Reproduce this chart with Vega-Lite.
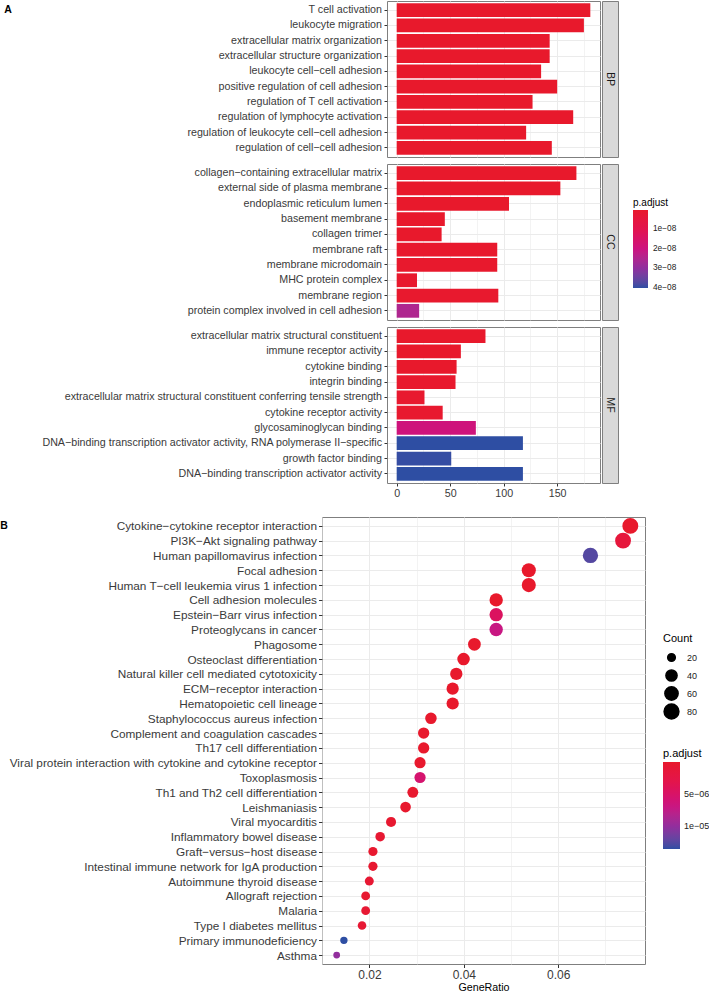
{
  "$schema": "https://vega.github.io/schema/vega-lite/v6.json",
  "padding": {"left": 0, "top": 0, "right": 0, "bottom": 0},
  "background": "white",
  "config": {
    "font": "Liberation Sans",
    "view": {"stroke": "#7f7f7f", "strokeWidth": 1},
    "axis": {"labelFont": "Liberation Sans", "titleFont": "Liberation Sans", "labelColor": "#3a3a3a", "tickColor": "#333333", "gridColor": "#EBEBEB", "domain": false},
    "legend": {"labelFont": "Liberation Sans", "titleFont": "Liberation Sans", "titleFontWeight": "normal", "titleColor": "#000000", "labelColor": "#222222"}
  },
  "datasets": {
    "go": [
      {"ont": "BP", "term": "T cell activation", "count": 181, "padj": 1.2e-20},
      {"ont": "BP", "term": "leukocyte migration", "count": 175, "padj": 3.5e-19},
      {"ont": "BP", "term": "extracellular matrix organization", "count": 143, "padj": 2.1e-18},
      {"ont": "BP", "term": "extracellular structure organization", "count": 143, "padj": 2.3e-18},
      {"ont": "BP", "term": "leukocyte cell−cell adhesion", "count": 135, "padj": 5.0e-17},
      {"ont": "BP", "term": "positive regulation of cell adhesion", "count": 150, "padj": 6.1e-17},
      {"ont": "BP", "term": "regulation of T cell activation", "count": 127, "padj": 1.4e-16},
      {"ont": "BP", "term": "regulation of lymphocyte activation", "count": 165, "padj": 1.6e-16},
      {"ont": "BP", "term": "regulation of leukocyte cell−cell adhesion", "count": 121, "padj": 3.2e-16},
      {"ont": "BP", "term": "regulation of cell−cell adhesion", "count": 145, "padj": 4.0e-16},
      {"ont": "CC", "term": "collagen−containing extracellular matrix", "count": 168, "padj": 1e-15},
      {"ont": "CC", "term": "external side of plasma membrane", "count": 153, "padj": 2e-14},
      {"ont": "CC", "term": "endoplasmic reticulum lumen", "count": 105, "padj": 3e-11},
      {"ont": "CC", "term": "basement membrane", "count": 45, "padj": 5e-11},
      {"ont": "CC", "term": "collagen trimer", "count": 42, "padj": 8e-11},
      {"ont": "CC", "term": "membrane raft", "count": 94, "padj": 3e-10},
      {"ont": "CC", "term": "membrane microdomain", "count": 94, "padj": 3.2e-10},
      {"ont": "CC", "term": "MHC protein complex", "count": 19, "padj": 4e-10},
      {"ont": "CC", "term": "membrane region", "count": 95, "padj": 6e-10},
      {"ont": "CC", "term": "protein complex involved in cell adhesion", "count": 21, "padj": 2.5e-8},
      {"ont": "MF", "term": "extracellular matrix structural constituent", "count": 83, "padj": 5e-12},
      {"ont": "MF", "term": "immune receptor activity", "count": 60, "padj": 3e-11},
      {"ont": "MF", "term": "cytokine binding", "count": 56, "padj": 9e-11},
      {"ont": "MF", "term": "integrin binding", "count": 55, "padj": 4e-10},
      {"ont": "MF", "term": "extracellular matrix structural constituent conferring tensile strength", "count": 26, "padj": 7e-10},
      {"ont": "MF", "term": "cytokine receptor activity", "count": 43, "padj": 9e-10},
      {"ont": "MF", "term": "glycosaminoglycan binding", "count": 74, "padj": 1.9e-8},
      {"ont": "MF", "term": "DNA−binding transcription activator activity, RNA polymerase II−specific", "count": 118, "padj": 4.01e-8},
      {"ont": "MF", "term": "growth factor binding", "count": 51, "padj": 3.97e-8},
      {"ont": "MF", "term": "DNA−binding transcription activator activity", "count": 118, "padj": 4.01e-8}
    ],
    "kegg": [
      {"pathway": "Cytokine−cytokine receptor interaction", "GeneRatio": 0.07527, "Count": 98, "padj": 2e-12},
      {"pathway": "PI3K−Akt signaling pathway", "GeneRatio": 0.07373, "Count": 96, "padj": 1.5e-6},
      {"pathway": "Human papillomavirus infection", "GeneRatio": 0.06682, "Count": 87, "padj": 1.25e-5},
      {"pathway": "Focal adhesion", "GeneRatio": 0.05376, "Count": 70, "padj": 3e-9},
      {"pathway": "Human T−cell leukemia virus 1 infection", "GeneRatio": 0.05376, "Count": 70, "padj": 4e-9},
      {"pathway": "Cell adhesion molecules", "GeneRatio": 0.04685, "Count": 61, "padj": 5e-10},
      {"pathway": "Epstein−Barr virus infection", "GeneRatio": 0.04685, "Count": 61, "padj": 4.5e-6},
      {"pathway": "Proteoglycans in cancer", "GeneRatio": 0.04685, "Count": 61, "padj": 7e-6},
      {"pathway": "Phagosome", "GeneRatio": 0.04224, "Count": 55, "padj": 2e-9},
      {"pathway": "Osteoclast differentiation", "GeneRatio": 0.03994, "Count": 52, "padj": 3e-9},
      {"pathway": "Natural killer cell mediated cytotoxicity", "GeneRatio": 0.0384, "Count": 50, "padj": 4e-9},
      {"pathway": "ECM−receptor interaction", "GeneRatio": 0.03763, "Count": 49, "padj": 5e-9},
      {"pathway": "Hematopoietic cell lineage", "GeneRatio": 0.03763, "Count": 49, "padj": 6e-9},
      {"pathway": "Staphylococcus aureus infection", "GeneRatio": 0.03303, "Count": 43, "padj": 5e-8},
      {"pathway": "Complement and coagulation cascades", "GeneRatio": 0.03149, "Count": 41, "padj": 1e-7},
      {"pathway": "Th17 cell differentiation", "GeneRatio": 0.03149, "Count": 41, "padj": 1.2e-7},
      {"pathway": "Viral protein interaction with cytokine and cytokine receptor", "GeneRatio": 0.03072, "Count": 40, "padj": 2e-7},
      {"pathway": "Toxoplasmosis", "GeneRatio": 0.03072, "Count": 40, "padj": 5.5e-6},
      {"pathway": "Th1 and Th2 cell differentiation", "GeneRatio": 0.02919, "Count": 38, "padj": 3e-7},
      {"pathway": "Leishmaniasis", "GeneRatio": 0.02765, "Count": 36, "padj": 2e-7},
      {"pathway": "Viral myocarditis", "GeneRatio": 0.02458, "Count": 32, "padj": 4e-7},
      {"pathway": "Inflammatory bowel disease", "GeneRatio": 0.02227, "Count": 29, "padj": 5e-7},
      {"pathway": "Graft−versus−host disease", "GeneRatio": 0.02074, "Count": 27, "padj": 3e-7},
      {"pathway": "Intestinal immune network for IgA production", "GeneRatio": 0.02074, "Count": 27, "padj": 4e-7},
      {"pathway": "Autoimmune thyroid disease", "GeneRatio": 0.01997, "Count": 26, "padj": 6e-7},
      {"pathway": "Allograft rejection", "GeneRatio": 0.0192, "Count": 25, "padj": 4e-7},
      {"pathway": "Malaria", "GeneRatio": 0.0192, "Count": 25, "padj": 6e-7},
      {"pathway": "Type I diabetes mellitus", "GeneRatio": 0.01843, "Count": 24, "padj": 7e-7},
      {"pathway": "Primary immunodeficiency", "GeneRatio": 0.01459, "Count": 19, "padj": 1.35e-5},
      {"pathway": "Asthma", "GeneRatio": 0.01306, "Count": 17, "padj": 1.0e-5}
    ]
  },
  "resolve": {"scale": {"color": "independent", "size": "independent"}, "legend": {"color": "independent", "size": "independent"}},
  "spacing": 5,
  "vconcat": [
    {
      "spacing": 0,
      "resolve": {"legend": {"color": "independent"}},
      "hconcat": [
        {
          "width": 16, "height": 18,
          "view": {"stroke": null},
          "data": {"values": [{"tag": "A"}]},
          "mark": {"type": "text", "fontSize": 10.5, "fontWeight": "bold", "color": "#000000"},
          "encoding": {"text": {"field": "tag", "type": "nominal"}}
        },
        {
          "width": 213, "height": 156,
          "data": {"name": "go"},
          "transform": [{"filter": "datum.ont === 'BP'"}],
          "mark": {"type": "bar"},
          "encoding": {
            "y": {"field": "term", "type": "nominal", "sort": null, "scale": {"type": "band", "paddingInner": 0.1, "paddingOuter": 0.15},
                  "axis": {"title": null, "labelFontSize": 10.7, "labelLimit": 400, "minExtent": 370, "maxExtent": 370, "tickSize": 3, "labelPadding": 2.5, "grid": true, "bandPosition": 0.5}},
            "x": {"field": "count", "type": "quantitative", "scale": {"domain": [-9.05, 190.05], "nice": false, "zero": false},
                  "axis": {"title": null, "values": [0, 25, 50, 75, 100, 125, 150, 175], "labels": false, "ticks": false, "tickSize": 0, "labelPadding": 0, "minExtent": 0, "maxExtent": 0, "grid": true, "gridWidth": {"condition": {"test": "datum.value % 50 === 0", "value": 1}, "value": 0.6}}},
            "x2": {"datum": 0},
            "color": {"field": "padj", "type": "quantitative",
                      "scale": {"domain": [4.01e-8, 3e-8, 2e-8, 1e-8, 0], "range": ["#2E4EA3", "#8F2F9E", "#CC1380", "#E2144F", "#E8192C"], "interpolate": "lab"},
                      "legend": null}
          }
        },
        {
          "width": 16, "height": 156,
          "data": {"values": [{"ont": "BP"}]},
          "view": {"fill": "#D9D9D9", "stroke": "#7f7f7f"},
          "mark": {"type": "text", "angle": 90, "fontSize": 10.7, "color": "#1a1a1a"},
          "encoding": {"text": {"field": "ont", "type": "nominal"}}
        }
      ]
    },
    {
      "spacing": 0,
      "resolve": {"legend": {"color": "independent"}},
      "hconcat": [
        {
          "width": 16, "height": 18,
          "view": {"stroke": null},
          "data": {"values": [{"tag": ""}]},
          "mark": {"type": "text", "fontSize": 10.5},
          "encoding": {"text": {"field": "tag", "type": "nominal"}}
        },
        {
          "width": 213, "height": 156,
          "data": {"name": "go"},
          "transform": [{"filter": "datum.ont === 'CC'"}],
          "mark": {"type": "bar"},
          "encoding": {
            "y": {"field": "term", "type": "nominal", "sort": null, "scale": {"type": "band", "paddingInner": 0.1, "paddingOuter": 0.15},
                  "axis": {"title": null, "labelFontSize": 10.7, "labelLimit": 400, "minExtent": 370, "maxExtent": 370, "tickSize": 3, "labelPadding": 2.5, "grid": true, "bandPosition": 0.5}},
            "x": {"field": "count", "type": "quantitative", "scale": {"domain": [-9.05, 190.05], "nice": false, "zero": false},
                  "axis": {"title": null, "values": [0, 25, 50, 75, 100, 125, 150, 175], "labels": false, "ticks": false, "tickSize": 0, "labelPadding": 0, "minExtent": 0, "maxExtent": 0, "grid": true, "gridWidth": {"condition": {"test": "datum.value % 50 === 0", "value": 1}, "value": 0.6}}},
            "x2": {"datum": 0},
            "color": {"field": "padj", "type": "quantitative",
                      "scale": {"domain": [4.01e-8, 3e-8, 2e-8, 1e-8, 0], "range": ["#2E4EA3", "#8F2F9E", "#CC1380", "#E2144F", "#E8192C"], "interpolate": "lab"},
                      "legend": null}
          }
        },
        {
          "width": 16, "height": 156,
          "view": {"fill": "#D9D9D9", "stroke": "#7f7f7f"},
          "layer": [
            {
              "data": {"values": [{"ont": "CC"}]},
              "mark": {"type": "text", "angle": 90, "fontSize": 10.7, "color": "#1a1a1a"},
              "encoding": {"text": {"field": "ont", "type": "nominal"}}
            },
            {
              "data": {"name": "go"},
              "mark": {"type": "point", "filled": true, "opacity": 0},
              "encoding": {
                "color": {"field": "padj", "type": "quantitative",
                          "scale": {"domain": [4.01e-8, 3e-8, 2e-8, 1e-8, 0], "range": ["#2E4EA3", "#8F2F9E", "#CC1380", "#E2144F", "#E8192C"], "interpolate": "lab"},
                          "legend": {"title": "p.adjust", "orient": "none", "legendX": 31, "legendY": 34, "direction": "vertical", "gradientLength": 78, "gradientThickness": 15, "gradientStrokeWidth": 0, "titleFontSize": 10, "titlePadding": 2, "titleAnchor": "start", "labelFontSize": 8.3, "labelOffset": 5, "labelBaseline": "middle", "values": [1e-8, 2e-8, 3e-8, 4e-8], "labelExpr": "replace(format(datum.value, '.0e'), 'e-', 'e−0')"}}
              }
            }
          ]
        }
      ]
    },
    {
      "spacing": 0,
      "resolve": {"legend": {"color": "independent"}},
      "hconcat": [
        {
          "width": 16, "height": 18,
          "view": {"stroke": null},
          "data": {"values": [{"tag": ""}]},
          "mark": {"type": "text", "fontSize": 10.5},
          "encoding": {"text": {"field": "tag", "type": "nominal"}}
        },
        {
          "width": 213, "height": 156,
          "data": {"name": "go"},
          "transform": [{"filter": "datum.ont === 'MF'"}],
          "mark": {"type": "bar"},
          "encoding": {
            "y": {"field": "term", "type": "nominal", "sort": null, "scale": {"type": "band", "paddingInner": 0.1, "paddingOuter": 0.15},
                  "axis": {"title": null, "labelFontSize": 10.7, "labelLimit": 400, "minExtent": 370, "maxExtent": 370, "tickSize": 3, "labelPadding": 2.5, "grid": true, "bandPosition": 0.5}},
            "x": {"field": "count", "type": "quantitative", "scale": {"domain": [-9.05, 190.05], "nice": false, "zero": false},
                  "axis": {"title": null, "values": [0, 25, 50, 75, 100, 125, 150, 175], "labelFontSize": 10.7, "tickSize": 3, "labelPadding": 2.5, "minExtent": 27, "maxExtent": 27,
                           "labelExpr": "datum.value % 50 === 0 ? datum.label : ''",
                           "tickOpacity": {"condition": {"test": "datum.value % 50 === 0", "value": 1}, "value": 0},
                           "grid": true, "gridWidth": {"condition": {"test": "datum.value % 50 === 0", "value": 1}, "value": 0.6}}},
            "x2": {"datum": 0},
            "color": {"field": "padj", "type": "quantitative",
                      "scale": {"domain": [4.01e-8, 3e-8, 2e-8, 1e-8, 0], "range": ["#2E4EA3", "#8F2F9E", "#CC1380", "#E2144F", "#E8192C"], "interpolate": "lab"},
                      "legend": null}
          }
        },
        {
          "width": 16, "height": 156,
          "data": {"values": [{"ont": "MF"}]},
          "view": {"fill": "#D9D9D9", "stroke": "#7f7f7f"},
          "mark": {"type": "text", "angle": 90, "fontSize": 10.7, "color": "#1a1a1a"},
          "encoding": {"text": {"field": "ont", "type": "nominal"}}
        }
      ]
    },
    {
      "spacing": 0,
      "resolve": {"scale": {"color": "independent", "size": "independent"}, "legend": {"color": "independent", "size": "independent"}},
      "hconcat": [
        {
          "width": 8, "height": 18,
          "view": {"stroke": null},
          "data": {"values": [{"tag": "B"}]},
          "mark": {"type": "text", "fontSize": 10.5, "fontWeight": "bold", "color": "#000000"},
          "encoding": {"text": {"field": "tag", "type": "nominal"}}
        },
        {
          "width": 323, "height": 447,
          "data": {"name": "kegg"},
          "mark": {"type": "point", "filled": true, "opacity": 1, "color": "black"},
          "encoding": {
            "y": {"field": "pathway", "type": "nominal", "sort": null, "scale": {"type": "point", "padding": 0.6},
                  "axis": {"title": null, "labelFontSize": 11.8, "labelLimit": 400, "minExtent": 312, "maxExtent": 312, "tickSize": 3.5, "labelPadding": 2, "grid": true}},
            "x": {"field": "GeneRatio", "type": "quantitative", "scale": {"domain": [0.00995, 0.07838], "nice": false, "zero": false},
                  "axis": {"title": "GeneRatio", "titleFontSize": 10.7, "titleFontWeight": "normal", "titleColor": "#000000", "titlePadding": 2,
                           "values": [0.01, 0.02, 0.03, 0.04, 0.05, 0.06, 0.07], "labelFontSize": 12, "tickSize": 3.5, "labelPadding": 1.5,
                           "labelExpr": "round(datum.value * 100) % 2 === 0 ? format(datum.value, '.2f') : ''",
                           "tickOpacity": {"condition": {"test": "round(datum.value * 100) % 2 === 0", "value": 1}, "value": 0},
                           "grid": true, "gridWidth": {"condition": {"test": "round(datum.value * 100) % 2 === 0", "value": 1}, "value": 0.6}}},
            "size": {"field": "Count", "type": "quantitative", "scale": {"type": "sqrt", "domain": [17, 98], "range": [46, 254], "zero": false},
                     "legend": {"title": "Count", "orient": "none", "legendX": 341, "legendY": 116, "values": [20, 40, 60, 80], "titleFontSize": 11, "titleAnchor": "start", "labelFontSize": 9, "symbolFillColor": "black", "symbolStrokeColor": "black", "symbolType": "circle", "clipHeight": 17, "rowPadding": 1, "labelOffset": 7, "titlePadding": 5}},
            "color": {"field": "padj", "type": "quantitative",
                      "scale": {"domain": [1.35e-5, 1.0125e-5, 6.75e-6, 3.375e-6, 0], "range": ["#2E4EA3", "#8F2F9E", "#CC1380", "#E2144F", "#E8192C"], "interpolate": "lab"},
                      "legend": {"title": "p.adjust", "orient": "none", "legendX": 341, "legendY": 231, "direction": "vertical", "gradientLength": 87, "gradientThickness": 17, "gradientStrokeWidth": 0, "titleFontSize": 11, "titlePadding": 3, "titleAnchor": "start", "labelFontSize": 9, "labelOffset": 4, "labelBaseline": "middle", "values": [5e-6, 1e-5], "labelExpr": "replace(format(datum.value, '.0e'), 'e-', 'e−0')"}}
          }
        }
      ]
    }
  ]
}
